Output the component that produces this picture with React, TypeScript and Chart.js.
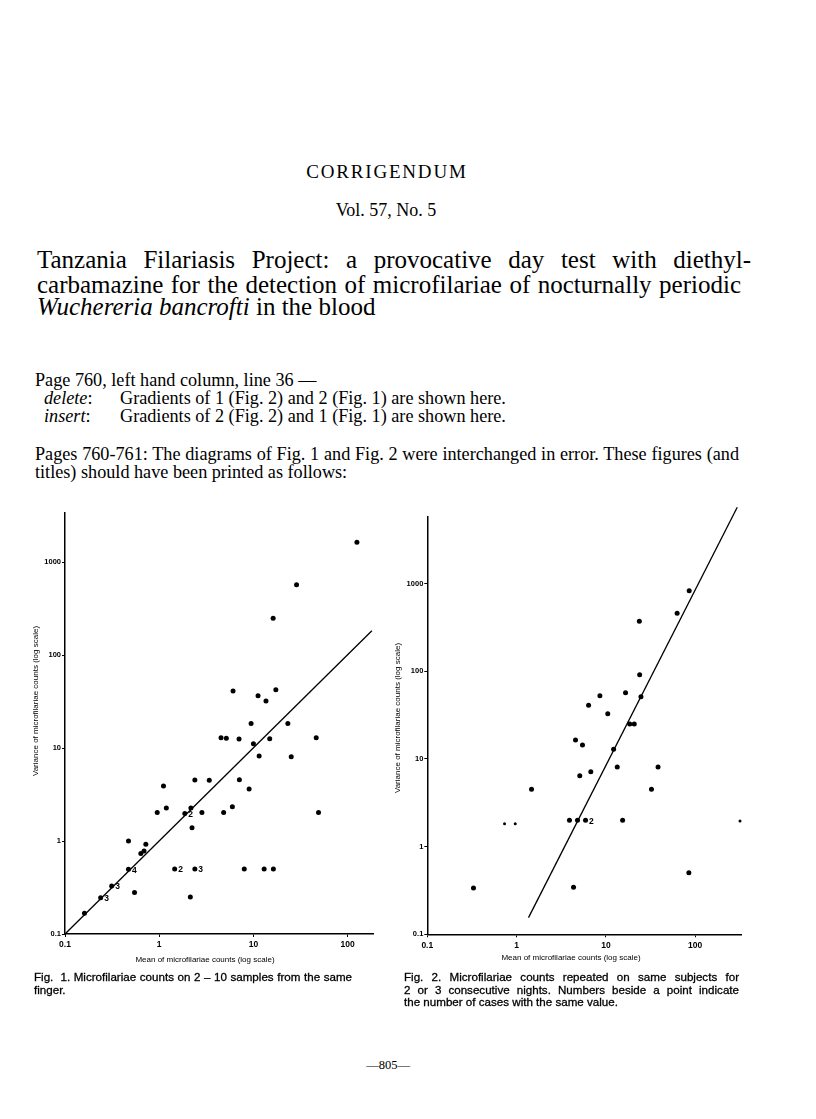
import React, { useEffect, useRef } from "react";
import { Chart, registerables } from "chart.js";

Chart.register(...registerables);
Chart.defaults.font.family = '"Liberation Sans", Arial, sans-serif';

// ---------- Fig. 1: counts on 2-10 samples from the same finger ----------
const fig1Mean = [125.6, 28.7, 16.2, 6.08, 11.2, 17.3, 13.6, 9.45, 23.2, 4.53, 5.16, 7.04, 10.0, 14.9, 46.4, 11.5, 25.2, 1.11, 2.39, 3.4, 7.1, 9.0, 0.953, 1.19, 1.87, 2.17, 2.23, 2.84, 4.83, 5.98, 49.1, 0.472, 0.721, 0.638, 0.69, 0.472, 1.46, 2.39, 8.0, 13.0, 16.3, 2.14, 0.547, 0.313, 0.239, 0.161];
const fig1Variance = [1629, 570, 248, 41, 36.5, 42.4, 32, 18.3, 18.3, 12.9, 12.7, 12.5, 11.1, 12.6, 12.9, 8.2, 8.05, 3.9, 4.53, 4.49, 4.57, 3.62, 2.02, 2.26, 1.98, 2.26, 1.39, 2.02, 2.02, 2.34, 2.02, 1.0, 0.92, 0.736, 0.78, 0.496, 0.5, 0.5, 0.5, 0.5, 0.5, 0.25, 0.28, 0.328, 0.246, 0.167];
const fig1Cases = [1, 1, 1, 1, 1, 1, 1, 1, 1, 1, 1, 1, 1, 1, 1, 1, 1, 1, 1, 1, 1, 1, 1, 1, 2, 1, 1, 1, 1, 1, 1, 1, 1, 1, 1, 4, 2, 3, 1, 1, 1, 1, 1, 3, 3, 1];
const fig1SmallMean: number[] = [];
const fig1SmallVariance: number[] = [];
const fig1LineMean = [0.1, 181];
const fig1LineVariance = [0.1, 182];
const fig1XTicks = [0.1, 1, 10, 100];
const fig1XTickLabels = ["0.1", "1", "10", "100"];
const fig1YTicks = [0.1, 1, 10, 100, 1000];
const fig1YTickLabels = ["0.1", "1", "10", "100", "1000"];

// ---------- Fig. 2: counts repeated on 2 or 3 consecutive nights ----------
const fig2Mean = [189, 85.7, 62.8, 23.7, 23.9, 24.7, 16.6, 8.57, 6.4, 10.5, 18.5, 20.8, 4.57, 5.47, 12.2, 13.4, 38.4, 5.1, 6.78, 1.47, 32.4, 3.91, 4.81, 5.92, 15.4, 0.329, 4.34, 85];
const fig2Variance = [7020, 828, 457, 371, 91, 51.2, 56.9, 52.6, 40.8, 32.8, 25, 25, 16.4, 14.4, 12.9, 8.09, 8.09, 6.43, 7.15, 4.5, 4.52, 2.0, 2.0, 2.0, 2.0, 0.337, 0.343, 0.503];
const fig2Cases = [1, 1, 1, 1, 1, 1, 1, 1, 1, 1, 1, 1, 1, 1, 1, 1, 1, 1, 1, 1, 1, 1, 1, 2, 1, 1, 1, 1];
const fig2SmallMean = [0.733, 0.966, 318];
const fig2SmallVariance = [1.82, 1.82, 1.96];
const fig2LineMean = [1.36, 296];
const fig2LineVariance = [0.155, 7400];
const fig2XTicks = [0.1, 1, 10, 100];
const fig2XTickLabels = ["0.1", "1", "10", "100"];
const fig2YTicks = [0.1, 1, 10, 100, 1000];
const fig2YTickLabels = ["0.1", "1", "10", "100", "1000"];

const xTitle = "Mean of microfilariae counts (log scale)";
const yTitle = "Variance of microfilariae counts (log scale)";

const FONT = '"Liberation Sans", Arial, sans-serif';

// Draws the "number of cases" labels beside points and the two axis titles.
const annotatePlugin = {
  id: "annotate",
  afterDatasetsDraw(chart: any, _args: any, opts: any) {
    const cases: number[] = opts.cases || [];
    const meta = chart.getDatasetMeta(0);
    const ctx = chart.ctx;
    ctx.save();
    ctx.fillStyle = "#000";
    ctx.font = `bold 8.5px ${FONT}`;
    ctx.textBaseline = "middle";
    ctx.textAlign = "left";
    meta.data.forEach((el: any, i: number) => {
      if (cases[i] > 1) ctx.fillText(String(cases[i]), el.x + 3.5, el.y + 1);
    });
    ctx.font = `8px ${FONT}`;
    ctx.textAlign = "center";
    ctx.fillText(xTitle, opts.xTitleX, opts.xTitleY);
    ctx.translate(opts.yTitleX, opts.yTitleY);
    ctx.rotate(-Math.PI / 2);
    ctx.fillText(yTitle, 0, 0);
    ctx.restore();
  },
};

type FigProps = {
  left: number; top: number; width: number; height: number;
  mean: number[]; variance: number[]; cases: number[];
  smallMean: number[]; smallVariance: number[];
  lineMean: number[]; lineVariance: number[];
  xMin: number; xMax: number; yMin: number; yMax: number;
  xTicks: number[]; xTickLabels: string[]; yTicks: number[]; yTickLabels: string[];
  yScaleWidth: number; xScaleHeight: number; padTop: number; padRight: number;
  xTitleX: number; xTitleY: number; yTitleX: number; yTitleY: number;
};

function Fig(p: FigProps) {
  const ref = useRef<HTMLCanvasElement>(null);
  useEffect(() => {
    const pts = p.mean.map((m, i) => ({ x: m, y: p.variance[i] }));
    const small = p.smallMean.map((m, i) => ({ x: m, y: p.smallVariance[i] }));
    const line = p.lineMean.map((m, i) => ({ x: m, y: p.lineVariance[i] }));
    const chart = new Chart(ref.current as HTMLCanvasElement, {
      type: "scatter",
      data: {
        datasets: [
          { data: pts, pointRadius: 2.5, pointBackgroundColor: "#000", pointBorderWidth: 0, clip: false } as any,
          { data: small, pointRadius: 1.5, pointBackgroundColor: "#000", pointBorderWidth: 0, clip: false } as any,
          { data: line, showLine: true, pointRadius: 0, borderColor: "#000", borderWidth: 1.3, clip: false } as any,
        ],
      },
      options: {
        animation: false,
        responsive: false,
        events: [],
        layout: { padding: { top: p.padTop, right: p.padRight, left: 0, bottom: 0 } },
        plugins: {
          legend: { display: false },
          tooltip: { enabled: false },
          annotate: { cases: p.cases, xTitleX: p.xTitleX, xTitleY: p.xTitleY, yTitleX: p.yTitleX, yTitleY: p.yTitleY },
        } as any,
        scales: {
          x: {
            type: "logarithmic",
            min: p.xMin,
            max: p.xMax,
            afterBuildTicks: (s: any) => { s.ticks = p.xTicks.map((v) => ({ value: v })); },
            afterFit: (s: any) => { s.height = p.xScaleHeight; },
            ticks: {
              autoSkip: false, maxRotation: 0, padding: 3, color: "#000",
              font: { size: 8.5, weight: "bold" },
              callback: (_v: any, i: number) => p.xTickLabels[i],
            },
            grid: { display: true, drawOnChartArea: false, drawTicks: true, tickLength: 3, color: "#000", lineWidth: 1 },
            border: { display: true, color: "#000", width: 1.5 },
            title: { display: false },
          },
          y: {
            type: "logarithmic",
            min: p.yMin,
            max: p.yMax,
            afterBuildTicks: (s: any) => { s.ticks = p.yTicks.map((v) => ({ value: v })); },
            afterFit: (s: any) => { s.width = p.yScaleWidth; },
            ticks: {
              autoSkip: false, padding: 1, color: "#000",
              font: { size: 7.5, weight: "bold" },
              callback: (_v: any, i: number) => p.yTickLabels[i],
            },
            grid: { display: true, drawOnChartArea: false, drawTicks: true, tickLength: 3, color: "#000", lineWidth: 1 },
            border: { display: true, color: "#000", width: 1.5 },
            title: { display: false },
          },
        },
      } as any,
      plugins: [annotatePlugin],
    });
    return () => chart.destroy();
  }, []);
  return (
    <canvas
      ref={ref}
      width={p.width}
      height={p.height}
      style={{ position: "absolute", left: p.left, top: p.top, width: p.width, height: p.height }}
    />
  );
}

const serif = '"Liberation Serif", "Times New Roman", serif';
const sans = FONT;

const abs = (left: number, top: number, extra: React.CSSProperties = {}): React.CSSProperties => ({
  position: "absolute", left, top, margin: 0, whiteSpace: "nowrap", color: "#000", ...extra,
});

const justified = (width: number): React.CSSProperties => ({
  width, whiteSpace: "normal", textAlign: "justify", textAlignLast: "justify",
} as any);

export default function App() {
  const titleStyle: React.CSSProperties = { fontFamily: serif, fontSize: 25, lineHeight: "25px" };
  const bodyStyle: React.CSSProperties = { fontFamily: serif, fontSize: 18.2, lineHeight: "18px" };
  const capStyle: React.CSSProperties = { fontFamily: sans, fontSize: 11.6, lineHeight: "12.5px", WebkitTextStroke: "0.3px #000" } as any;
  return (
    <div>
      <div style={abs(0, 162.4, { width: 774, textAlign: "center", fontFamily: serif, fontSize: 19, lineHeight: "19px", letterSpacing: 1.8 })}>CORRIGENDUM</div>
      <div style={abs(0, 200.6, { width: 772, textAlign: "center", fontFamily: serif, fontSize: 18, lineHeight: "18px" })}>Vol. 57, No. 5</div>

      <div style={abs(37, 247.4, { ...titleStyle, ...justified(714) })}>Tanzania Filariasis Project: a provocative day test with diethyl-</div>
      <div style={abs(37, 271.8, { ...titleStyle, ...justified(704) })}>carbamazine for the detection of microfilariae of nocturnally periodic</div>
      <div style={abs(37, 294.1, titleStyle)}><i>Wuchereria bancrofti</i> in the blood</div>

      <div style={abs(35, 370.6, bodyStyle)}>Page 760, left hand column, line 36 —</div>
      <div style={abs(44, 389.2, bodyStyle)}><i>delete</i>:</div>
      <div style={abs(120, 389.2, bodyStyle)}>Gradients of 1 (Fig. 2) and 2 (Fig. 1) are shown here.</div>
      <div style={abs(44, 407, bodyStyle)}><i>insert</i>:</div>
      <div style={abs(120, 407, bodyStyle)}>Gradients of 2 (Fig. 2) and 1 (Fig. 1) are shown here.</div>
      <div style={abs(35, 444.9, { ...bodyStyle, ...justified(704) })}>Pages 760-761: The diagrams of Fig. 1 and Fig. 2 were interchanged in error. These figures (and</div>
      <div style={abs(35, 463.2, bodyStyle)}>titles) should have been printed as follows:</div>

      <Fig
        left={10} top={500} width={372} height={475}
        mean={fig1Mean} variance={fig1Variance} cases={fig1Cases}
        smallMean={fig1SmallMean} smallVariance={fig1SmallVariance}
        lineMean={fig1LineMean} lineVariance={fig1LineVariance}
        xMin={0.1} xMax={186} yMin={0.1} yMax={3365}
        xTicks={fig1XTicks} xTickLabels={fig1XTickLabels} yTicks={fig1YTicks} yTickLabels={fig1YTickLabels}
        yScaleWidth={55} xScaleHeight={41} padTop={13} padRight={9}
        xTitleX={195} xTitleY={460} yTitleX={26} yTitleY={201}
      />
      <Fig
        left={385} top={495} width={410} height={485}
        mean={fig2Mean} variance={fig2Variance} cases={fig2Cases}
        smallMean={fig2SmallMean} smallVariance={fig2SmallVariance}
        lineMean={fig2LineMean} lineVariance={fig2LineVariance}
        xMin={0.1} xMax={332} yMin={0.1} yMax={5780}
        xTicks={fig2XTicks} xTickLabels={fig2XTickLabels} yTicks={fig2YTicks} yTickLabels={fig2YTickLabels}
        yScaleWidth={42.3} xScaleHeight={45.7} padTop={21.7} padRight={53.3}
        xTitleX={186} xTitleY={463} yTitleX={13} yTitleY={223}
      />

      <div style={abs(34, 971.4, { ...capStyle, ...justified(318) })}>Fig.&nbsp; 1. Microfilariae counts on 2 – 10 samples from the same</div>
      <div style={abs(34, 983.9, capStyle)}>finger.</div>
      <div style={abs(404, 971.4, { ...capStyle, ...justified(335) })}>Fig. 2. Microfilariae counts repeated on same subjects for</div>
      <div style={abs(404, 983.9, { ...capStyle, ...justified(335) })}>2 or 3 consecutive nights. Numbers beside a point indicate</div>
      <div style={abs(404, 996.4, capStyle)}>the number of cases with the same value.</div>

      <div style={abs(0, 1058.8, { width: 776, textAlign: "center", fontFamily: serif, fontSize: 12.5, lineHeight: "12.5px" })}>—805—</div>
    </div>
  );
}
